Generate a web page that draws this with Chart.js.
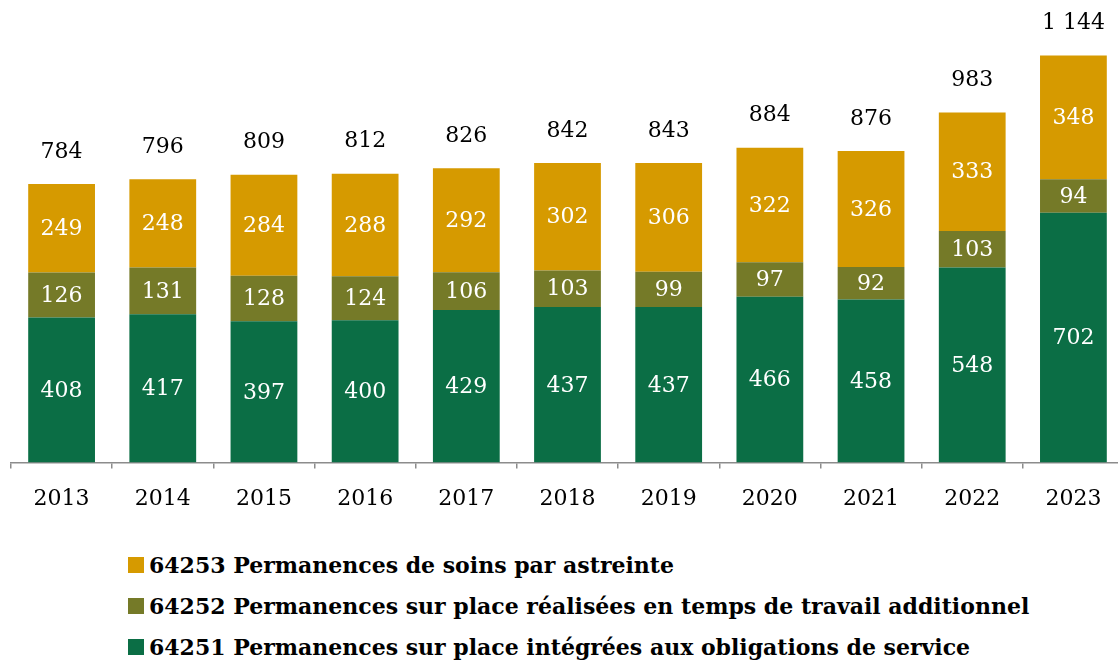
<!DOCTYPE html>
<html>
<head>
<meta charset="utf-8">
<script src="https://cdn.jsdelivr.net/npm/chart.js@4.4.0/dist/chart.umd.min.js"></script>
<style>
  html, body { margin: 0; padding: 0; background: #fff; overflow: hidden; }
  #wrap { width: 1130px; height: 535px; position: relative; }
  #legend { padding-left: 128px; padding-top: 9px; font-family: "DejaVu Serif", serif; font-weight: bold; font-size: 22px; color: #000; }
  .row { height: 41px; display: flex; align-items: center; }
  .sw { width: 16px; height: 16px; margin-right: 5px; flex: none; }
</style>
</head>
<body>
<div id="wrap"><canvas id="chart"></canvas></div>
<div id="legend"></div>
<script>
const years = ["2013", "2014", "2015", "2016", "2017", "2018", "2019", "2020", "2021", "2022", "2023"];
const integrees = [408, 417, 397, 400, 429, 437, 437, 466, 458, 548, 702];
const additionnel = [126, 131, 128, 124, 106, 103, 99, 97, 92, 103, 94];
const astreinte = [249, 248, 284, 288, 292, 302, 306, 322, 326, 333, 348];
const totals = [784, 796, 809, 812, 826, 842, 843, 884, 876, 983, 1144];

const seriesNames = [
  "64251 Permanences sur place intégrées aux obligations de service",
  "64252 Permanences sur place réalisées en temps de travail additionnel",
  "64253 Permanences de soins par astreinte"
];
const colors = ["#0b6e45", "#757a28", "#d69a00"];

const fontFamily = "'DejaVu Serif', serif";

function fmt(n) {
  return String(n).replace(/\B(?=(\d{3})+(?!\d))/g, " ");
}

const totalsPlugin = {
  id: "totals",
  afterDatasetsDraw(chart) {
    const ctx = chart.ctx;
    const top = chart.getDatasetMeta(chart.data.datasets.length - 1);
    ctx.save();
    ctx.font = "22px " + fontFamily;
    ctx.fillStyle = "#000";
    ctx.textAlign = "center";
    ctx.textBaseline = "middle";
    totals.forEach((t, i) => {
      const bar = top.data[i];
      ctx.fillText(fmt(t), bar.x, bar.y - 32);
    });
    ctx.restore();
  }
};

const insideLabels = {
  id: "insideLabels",
  afterDatasetsDraw(chart) {
    const ctx = chart.ctx;
    ctx.save();
    ctx.font = "22px " + fontFamily;
    ctx.fillStyle = "#fff";
    ctx.textAlign = "center";
    ctx.textBaseline = "middle";
    chart.data.datasets.forEach((ds, di) => {
      const meta = chart.getDatasetMeta(di);
      meta.data.forEach((bar, i) => {
        ctx.fillText(fmt(ds.data[i]), bar.x, (bar.y + bar.base) / 2 + 1);
      });
    });
    ctx.restore();
  }
};

new Chart(document.getElementById("chart"), {
  type: "bar",
  data: {
    labels: years,
    datasets: [
      { label: seriesNames[0], data: integrees, backgroundColor: colors[0] },
      { label: seriesNames[1], data: additionnel, backgroundColor: colors[1] },
      { label: seriesNames[2], data: astreinte, backgroundColor: colors[2] }
    ]
  },
  options: {
    responsive: true,
    maintainAspectRatio: false,
    animation: false,
    layout: { padding: { left: 11, right: 6, top: 0, bottom: 6 } },
    datasets: { bar: { categoryPercentage: 1, barPercentage: 0.66, borderWidth: 0 } },
    scales: {
      x: {
        stacked: true,
        grid: { display: true, drawOnChartArea: false, offset: true, tickLength: 6, color: "#8c8c8c", lineWidth: 1.5 },
        border: { display: true, color: "#8c8c8c", width: 1.5 },
        ticks: { color: "#000", font: { family: fontFamily, size: 22 }, padding: 17 }
      },
      y: { stacked: true, display: false, min: 0, max: 1300 }
    },
    plugins: {
      legend: { display: false },
      tooltip: { enabled: false }
    }
  },
  plugins: [insideLabels, totalsPlugin]
});

const legend = document.getElementById("legend");
[2, 1, 0].forEach(i => {
  const row = document.createElement("div");
  row.className = "row";
  const sw = document.createElement("span");
  sw.className = "sw";
  sw.style.background = colors[i];
  const txt = document.createElement("span");
  txt.textContent = seriesNames[i];
  row.appendChild(sw);
  row.appendChild(txt);
  legend.appendChild(row);
});
</script>
</body>
</html>
